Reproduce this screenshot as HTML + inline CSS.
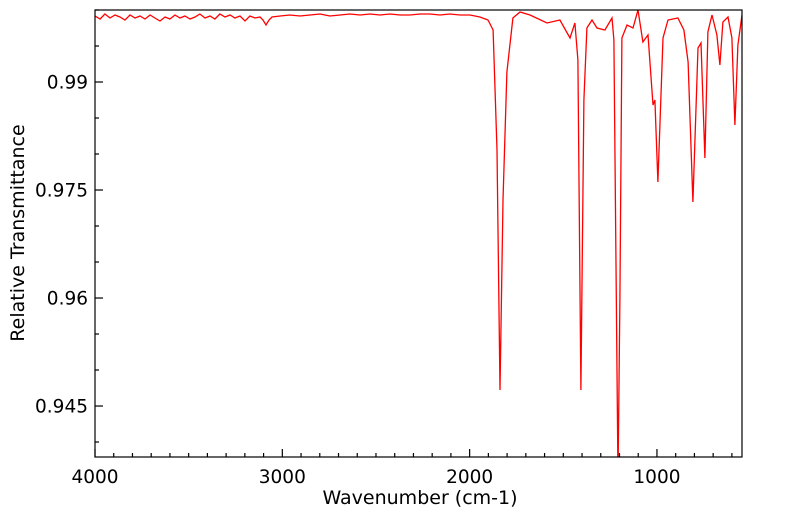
<!DOCTYPE html>
<html><head><meta charset="utf-8"><style>
body{margin:0;background:#fff;}
svg{display:block;font-family:"DejaVu Sans","Liberation Sans",sans-serif;}
</style></head><body>
<svg id="chart" width="799" height="516"></svg>
<script>
const wavenumbers=[4000,3973,3947,3920,3893,3867,3840,3813,3786,3760,3733,3706,3680,3653,3626,3600,3573,3546,3520,3493,3466,3440,3413,3386,3360,3333,3306,3279,3253,3226,3199,3173,3146,3119,3103,3087,3071,3055,3012,2959,2906,2852,2799,2746,2692,2639,2585,2532,2479,2425,2372,2319,2265,2212,2158,2105,2052,1998,1945,1902,1875,
1854,1838,1822,1801,1769,1731,1678,1587,1518,1464,1438,1422,1406,1390,1374,1347,1320,1278,1240,1230,1208,1198,1187,1160,1128,1101,1075,1048,1021,1011,995,968,941,888,856,834,808,781,765,744,728,706,680,664,648,621,600,584,568,546];
const transmittance=[.99917,.99875,.99944,.99889,.99931,.99903,.99861,.99931,.99889,.99917,.99875,.99931,.99889,.99847,.99903,.99875,.99931,.99889,.99917,.99875,.99903,.99944,.99889,.99917,.99875,.99944,.99903,.99931,.99889,.99917,.99847,.99917,.99889,.99903,.99861,.99792,.99861,.99903,.99917,.99931,.99917,.99931,.99944,.99917,.99931,.99944,.99931,.99944,.99931,.99944,.99931,.99931,.99944,.99944,.99931,.99944,.99931,.99931,.99903,.99861,.99722,
.98056,.94722,.97361,.99139,.99889,.99972,.99931,.99819,.99861,.99611,.99819,.99306,.94722,.9875,.9975,.99861,.9975,.99722,.99889,.99583,.935,.95972,.99611,.99792,.9975,1.0,.99556,.99653,.98681,.9875,.97611,.99611,.99861,.99889,.99722,.99278,.97333,.99472,.99542,.97944,.99694,.99931,.99653,.99236,.99833,.99903,.99611,.98403,.99514,.99931];
const yTickLabels=[0.945,0.96,0.975,0.99];
const xTickLabels=[4000,3000,2000,1000];
const L=95,R=742,T=10,B=457,X0=4000,X1=546,Y0=0.93792,Y1=1.0;
const sx=v=>L+(X0-v)/(X0-X1)*(R-L);
const sy=v=>B-(v-Y0)/(Y1-Y0)*(B-T);
const svg=document.getElementById('chart');
const NS='http://www.w3.org/2000/svg';
function mk(tag,attrs,parent){const e=document.createElementNS(NS,tag);for(const k in attrs)e.setAttribute(k,attrs[k]);(parent||svg).appendChild(e);return e;}
const defs=mk('defs',{});const cp=mk('clipPath',{id:'pc'},defs);mk('rect',{x:L,y:T,width:R-L,height:B-T},cp);
let d='';wavenumbers.forEach((w,i)=>{d+=(i?'L':'M')+sx(w).toFixed(1)+','+sy(transmittance[i]).toFixed(1);});
const line=mk('path',{d:d,fill:'none',stroke:'#ff0000','stroke-width':1.3,'clip-path':'url(#pc)'});


const frame=mk('rect',{x:L,y:T,width:R-L,height:B-T,fill:'none',stroke:'#000','stroke-width':1.2});


for(let v=0.94;v<=1.0001;v+=0.005){const y=sy(v);if(y<T||y>B)continue;const major=yTickLabels.some(t=>Math.abs(t-v)<1e-6);mk('line',{x1:L,x2:L+(major?8:4),y1:y,y2:y,stroke:'#000','stroke-width':1.2});}
yTickLabels.forEach(v=>{const t=mk('text',{x:88,y:sy(v)+6.5,'text-anchor':'end','font-size':18.5});t.textContent=v;

});
for(let v=4000;v>=X1;v-=100){const x=sx(v);const major=v%1000===0;mk('line',{x1:x,x2:x,y1:B,y2:B-(major?8:4),stroke:'#000','stroke-width':1.2});}
xTickLabels.forEach(v=>{const t=mk('text',{x:sx(v),y:483,'text-anchor':'middle','font-size':18.5});t.textContent=v;

});
const xt=mk('text',{x:420,y:504,'text-anchor':'middle','font-size':19});xt.textContent='Wavenumber (cm-1)';


const yt=mk('text',{x:0,y:0,'text-anchor':'middle','font-size':19,transform:'translate(24,233) rotate(-90)'});yt.textContent='Relative Transmittance';


</script>
</body></html>
